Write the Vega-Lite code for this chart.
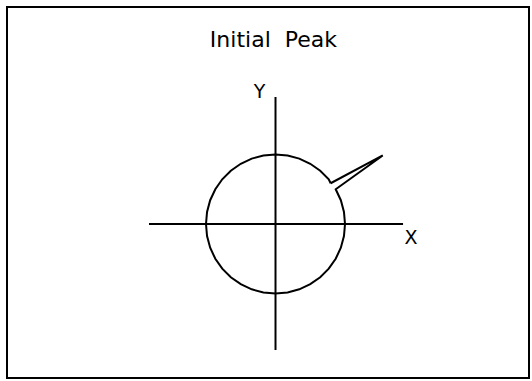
{
  "$schema": "https://vega.github.io/schema/vega-lite/v6.json",
  "width": 522,
  "height": 371,
  "autosize": "none",
  "padding": {"left": 7, "top": 7, "right": 3, "bottom": 3},
  "background": "white",
  "config": {"view": {"stroke": "black", "strokeWidth": 2}},
  "datasets": {
    "axes": [
      {"name": "x", "x1": -1.82, "y1": 0, "x2": 1.835, "y2": 0},
      {"name": "y", "x1": 0, "y1": 1.827, "x2": 0, "y2": -1.813}
    ],
    "curve": [
      {"i": 0, "x": 0.793, "y": 0.586},
      {"i": 1, "x": 0.766, "y": 0.643},
      {"i": 2, "x": 0.643, "y": 0.766},
      {"i": 3, "x": 0.5, "y": 0.866},
      {"i": 4, "x": 0.342, "y": 0.94},
      {"i": 5, "x": 0.174, "y": 0.985},
      {"i": 6, "x": 0, "y": 1},
      {"i": 7, "x": -0.174, "y": 0.985},
      {"i": 8, "x": -0.342, "y": 0.94},
      {"i": 9, "x": -0.5, "y": 0.866},
      {"i": 10, "x": -0.643, "y": 0.766},
      {"i": 11, "x": -0.766, "y": 0.643},
      {"i": 12, "x": -0.866, "y": 0.5},
      {"i": 13, "x": -0.94, "y": 0.342},
      {"i": 14, "x": -0.985, "y": 0.174},
      {"i": 15, "x": -1, "y": 0},
      {"i": 16, "x": -0.985, "y": -0.174},
      {"i": 17, "x": -0.94, "y": -0.342},
      {"i": 18, "x": -0.866, "y": -0.5},
      {"i": 19, "x": -0.766, "y": -0.643},
      {"i": 20, "x": -0.643, "y": -0.766},
      {"i": 21, "x": -0.5, "y": -0.866},
      {"i": 22, "x": -0.342, "y": -0.94},
      {"i": 23, "x": -0.174, "y": -0.985},
      {"i": 24, "x": 0, "y": -1},
      {"i": 25, "x": 0.174, "y": -0.985},
      {"i": 26, "x": 0.342, "y": -0.94},
      {"i": 27, "x": 0.5, "y": -0.866},
      {"i": 28, "x": 0.643, "y": -0.766},
      {"i": 29, "x": 0.766, "y": -0.643},
      {"i": 30, "x": 0.866, "y": -0.5},
      {"i": 31, "x": 0.94, "y": -0.342},
      {"i": 32, "x": 0.985, "y": -0.174},
      {"i": 33, "x": 1, "y": 0},
      {"i": 34, "x": 0.985, "y": 0.174},
      {"i": 35, "x": 0.94, "y": 0.342},
      {"i": 36, "x": 0.866, "y": 0.5},
      {"i": 37, "x": 1.543, "y": 0.986},
      {"i": 38, "x": 0.793, "y": 0.586}
    ],
    "labels": [
      {"t": "Initial\u00a0\u00a0Peak", "x": -0.03, "y": 2.64, "s": 22},
      {"t": "Y", "x": -0.23, "y": 1.9, "s": 19},
      {"t": "X", "x": 1.95, "y": -0.2, "s": 19}
    ]
  },
  "layer": [
    {
      "data": {"name": "axes"},
      "mark": {"type": "rule", "color": "black", "strokeWidth": 2},
      "encoding": {
        "x": {"field": "x1", "type": "quantitative", "scale": {"domain": [-3.863, 3.647], "nice": false, "zero": false}, "axis": null},
        "y": {"field": "y1", "type": "quantitative", "scale": {"domain": [-2.216, 3.122], "nice": false, "zero": false}, "axis": null},
        "x2": {"field": "x2"},
        "y2": {"field": "y2"}
      }
    },
    {
      "data": {"name": "curve"},
      "mark": {"type": "line", "color": "black", "strokeWidth": 2, "strokeJoin": "miter"},
      "encoding": {
        "x": {"field": "x", "type": "quantitative"},
        "y": {"field": "y", "type": "quantitative"},
        "order": {"field": "i", "type": "quantitative"}
      }
    },
    {
      "data": {"name": "labels"},
      "mark": {"type": "text", "color": "black", "font": "DejaVu Sans", "baseline": "middle", "align": "center"},
      "encoding": {
        "x": {"field": "x", "type": "quantitative"},
        "y": {"field": "y", "type": "quantitative"},
        "text": {"field": "t"},
        "size": {"field": "s", "type": "quantitative", "scale": null}
      }
    }
  ]
}
